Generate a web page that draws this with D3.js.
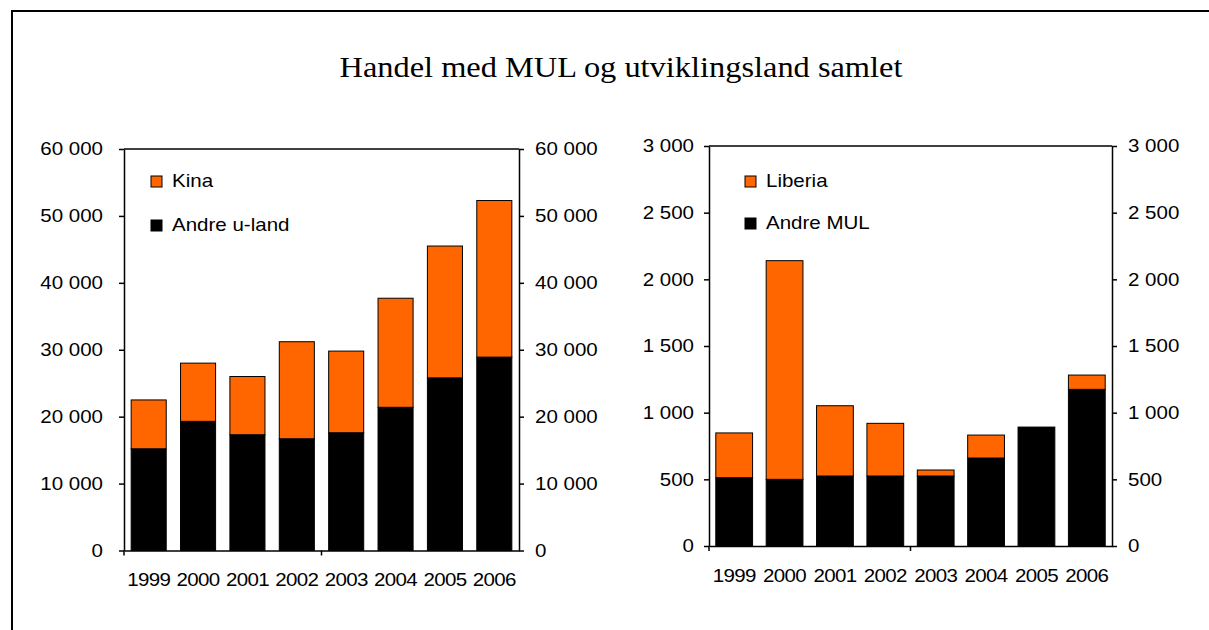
<!DOCTYPE html>
<html>
<head>
<meta charset="utf-8">
<style>
  body { margin: 0; background: #fff; }
  svg text { font-family: "Liberation Sans", Arial, sans-serif; fill: #000; }
  .wide { transform-box: fill-box; transform: scaleX(1.14); }
  .o-end { transform-origin: right center; }
  .o-start { transform-origin: left center; }
  .o-mid { transform-origin: center center; }
</style>
</head>
<body>
<div id="chart"></div>
<script src="https://cdn.jsdelivr.net/npm/d3@7"></script>
<script>
// data
const years = ['1999', '2000', '2001', '2002', '2003', '2004', '2005', '2006']

const andreULand = [15200, 19300, 17300, 16700, 17600, 21400, 25800, 28900]
const kina       = [7300, 8700, 8700, 14500, 12200, 16300, 19700, 23400]

const andreMUL = [512, 500, 525, 525, 525, 660, 892, 1175]
const liberia  = [336, 1640, 527, 395, 45, 172, 0, 107]

const leftTicks  = [0, 10000, 20000, 30000, 40000, 50000, 60000]
const rightTicks = [0, 500, 1000, 1500, 2000, 2500, 3000]

const width = 1209
const height = 630
const orange = '#ff6600'
const fs = '18px'

const fmt = d3.formatLocale({decimal: ',', thousands: ' ', grouping: [3], currency: ['', '']}).format(',d')

const svg = d3.select('#chart')
  .append('svg')
  .attr('width', width)
  .attr('height', height)

// outer frame
svg.append('rect')
  .attr('x', 12).attr('y', 11)
  .attr('width', 1300).attr('height', 700)
  .attr('fill', 'none')
  .attr('stroke', '#000')
  .attr('stroke-width', 2)

svg.append('text')
  .attr('x', 621).attr('y', 77)
  .attr('text-anchor', 'middle')
  .style('font-family', '"Liberation Serif", "Times New Roman", serif')
  .style('font-size', '30px')
  .style('transform-box', 'fill-box')
  .style('transform-origin', 'center center')
  .style('transform', 'scaleX(1.08)')
  .text('Handel med MUL og utviklingsland samlet')

function panel(p) {
  const x = d3.scaleBand()
    .domain(years)
    .range([p.x0, p.x1])
    .paddingInner(p.pad)
    .paddingOuter(p.pad / 2)

  const y = d3.scaleLinear()
    .domain([0, p.max])
    .range([p.base, p.top])

  const g = svg.append('g')

  // stacked bars: black at the bottom, orange on top
  g.selectAll('rect.low')
    .data(p.low)
    .enter()
    .append('rect')
    .attr('class', 'low')
    .attr('x', (d, i) => x(years[i]))
    .attr('y', d => y(d))
    .attr('width', x.bandwidth())
    .attr('height', d => y(0) - y(d))
    .attr('fill', '#000')
    .attr('stroke', '#000')

  g.selectAll('rect.high')
    .data(p.high)
    .enter()
    .append('rect')
    .attr('class', 'high')
    .attr('x', (d, i) => x(years[i]))
    .attr('y', (d, i) => y(p.low[i] + d))
    .attr('width', x.bandwidth())
    .attr('height', (d, i) => y(p.low[i]) - y(p.low[i] + d))
    .attr('fill', orange)
    .attr('stroke', '#000')
    .attr('stroke-width', 1)
    .style('display', d => d > 0 ? null : 'none')

  // top border of plot area
  g.append('line')
    .attr('x1', p.x0).attr('x2', p.x1)
    .attr('y1', y(p.max)).attr('y2', y(p.max))
    .attr('stroke', '#000').attr('stroke-width', 1.5)

  const yl = g.append('g')
    .attr('transform', `translate(${p.x0},0)`)
    .call(d3.axisLeft(y).tickValues(p.ticks).tickFormat(fmt).tickSize(5).tickSizeOuter(0).tickPadding(p.lpad))
  const yr = g.append('g')
    .attr('transform', `translate(${p.x1},0)`)
    .call(d3.axisRight(y).tickValues(p.ticks).tickFormat(fmt).tickSize(5).tickSizeOuter(0).tickPadding(11))

  ;[yl, yr].forEach(a => {
    a.attr('font-family', null).attr('font-size', null)
    a.selectAll('path, line').attr('stroke', '#000').attr('stroke-width', 1.5)
    a.selectAll('text').style('font-size', fs)
  })
  yl.selectAll('text').attr('class', 'wide o-end')
  yr.selectAll('text').attr('class', 'wide o-start')

  // category axis
  const xa = g.append('g')
    .attr('transform', `translate(0,${p.base})`)
    .call(d3.axisBottom(x).tickSize(0).tickPadding(23))
  xa.attr('font-family', null).attr('font-size', null)
  xa.select('.domain').attr('stroke', '#000').attr('stroke-width', 1.5)
  xa.selectAll('text').style('font-size', fs).style('letter-spacing', '-0.6px').attr('class', 'wide o-mid')

  // tick marks every fourth category boundary
  const half = x.step() * x.paddingInner() / 2
  ;[0, 4].forEach(k => {
    const tx = x(years[k]) - half
    xa.append('line')
      .attr('x1', tx).attr('x2', tx)
      .attr('y1', 0).attr('y2', 5)
      .attr('stroke', '#000').attr('stroke-width', 1.5)
  })

  // legend
  const items = [
    {name: p.highName, color: orange, y: p.legY[0]},
    {name: p.lowName, color: '#000', y: p.legY[1]}
  ]
  items.forEach(it => {
    g.append('rect')
      .attr('x', p.legX).attr('y', it.y - 11)
      .attr('width', 11).attr('height', 11)
      .attr('fill', it.color)
      .attr('stroke', '#000')
    g.append('text')
      .attr('class', 'wide o-start')
      .attr('x', p.legX + 21).attr('y', it.y)
      .style('font-size', fs)
      .text(it.name)
  })
}

panel({
  x0: 124, x1: 519, top: 149, base: 550.5, pad: 0.29, max: 60000,
  low: andreULand, high: kina, ticks: leftTicks, lpad: 16,
  lowName: 'Andre u-land', highName: 'Kina',
  legX: 151, legY: [187, 231]
})

panel({
  x0: 709, x1: 1112, top: 146, base: 546, pad: 0.27, max: 3000,
  low: andreMUL, high: liberia, ticks: rightTicks, lpad: 10,
  lowName: 'Andre MUL', highName: 'Liberia',
  legX: 745, legY: [187, 229]
})
</script>
</body>
</html>
